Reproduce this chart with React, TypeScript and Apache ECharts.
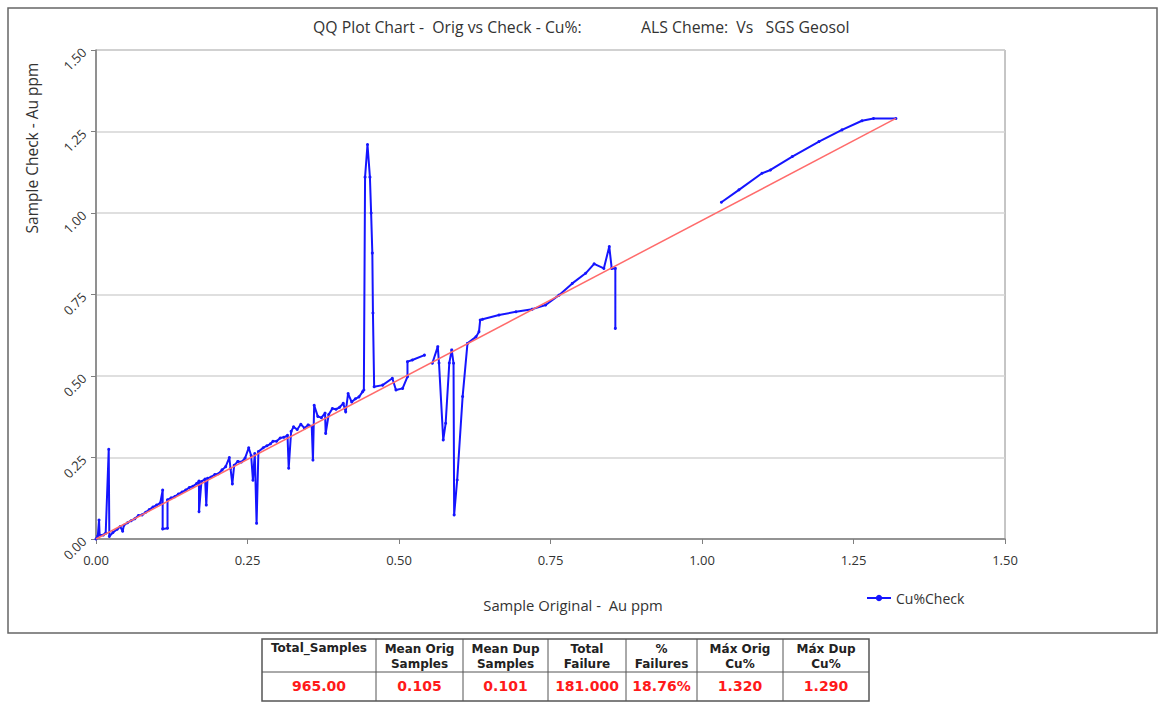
import React, { useEffect, useRef } from "react";
import * as echarts from "echarts";

const seriesName = "Cu%Check";
const titleLeft = "QQ Plot Chart -  Orig vs Check - Cu%:";
const titleRight = "ALS Cheme:  Vs   SGS Geosol";
const xAxisName = "Sample Original -  Au ppm";
const yAxisName = "Sample Check - Au ppm";

// blue QQ trace, split where the original line has gaps
const checkSegment1: number[][] = [
  [0, 0], [0.003, 0.01], [0.005, 0.058], [0.006, 0.012], [0.012, 0.012], [0.016, 0.018],
  [0.021, 0.275], [0.022, 0.008], [0.028, 0.02], [0.035, 0.03], [0.04, 0.038], [0.044, 0.024],
  [0.046, 0.042], [0.052, 0.05], [0.058, 0.056], [0.064, 0.062], [0.07, 0.072], [0.076, 0.074],
  [0.082, 0.082], [0.088, 0.09], [0.094, 0.098], [0.1, 0.104], [0.106, 0.11], [0.11, 0.15],
  [0.11, 0.031], [0.118, 0.033], [0.118, 0.12], [0.124, 0.126], [0.13, 0.13], [0.136, 0.138],
  [0.142, 0.144], [0.148, 0.15], [0.154, 0.158], [0.16, 0.162], [0.166, 0.17], [0.17, 0.178],
  [0.17, 0.084], [0.174, 0.176], [0.18, 0.184], [0.182, 0.104], [0.184, 0.186], [0.19, 0.19],
  [0.196, 0.198], [0.202, 0.2], [0.208, 0.212], [0.214, 0.222], [0.22, 0.25], [0.222, 0.216],
  [0.225, 0.169], [0.228, 0.226], [0.234, 0.238], [0.24, 0.236], [0.246, 0.248], [0.252, 0.28],
  [0.256, 0.256], [0.259, 0.18], [0.262, 0.262], [0.265, 0.048], [0.268, 0.268], [0.276, 0.28],
  [0.282, 0.286], [0.288, 0.292], [0.292, 0.3], [0.298, 0.3], [0.304, 0.31], [0.31, 0.312],
  [0.316, 0.318], [0.318, 0.217], [0.322, 0.33], [0.326, 0.344], [0.332, 0.336], [0.338, 0.352],
  [0.344, 0.34], [0.35, 0.35], [0.356, 0.346], [0.358, 0.242], [0.36, 0.41], [0.366, 0.376],
  [0.372, 0.372], [0.378, 0.386], [0.379, 0.324], [0.384, 0.382], [0.39, 0.4], [0.396, 0.398],
  [0.402, 0.404], [0.408, 0.416], [0.412, 0.39], [0.416, 0.446], [0.422, 0.42], [0.428, 0.43],
  [0.434, 0.436], [0.44, 0.452], [0.442, 0.457], [0.444, 1.11], [0.448, 1.21], [0.452, 1.11],
  [0.454, 1.0], [0.456, 0.877], [0.457, 0.693], [0.459, 0.467], [0.473, 0.472], [0.489, 0.493],
  [0.495, 0.457], [0.506, 0.462], [0.514, 0.498], [0.514, 0.544], [0.522, 0.549], [0.542, 0.564],
];
const checkSegment2: number[][] = [
  [0.555, 0.539], [0.564, 0.59], [0.566, 0.54], [0.573, 0.304], [0.577, 0.355], [0.583, 0.54],
  [0.587, 0.58], [0.59, 0.539], [0.591, 0.074], [0.596, 0.181], [0.605, 0.437], [0.613, 0.6],
  [0.627, 0.62], [0.632, 0.636], [0.634, 0.672], [0.638, 0.674], [0.665, 0.687], [0.693, 0.697],
  [0.72, 0.705], [0.742, 0.718], [0.764, 0.748], [0.786, 0.784], [0.808, 0.815], [0.822, 0.844],
  [0.838, 0.83], [0.847, 0.897], [0.851, 0.83], [0.857, 0.83], [0.857, 0.646],
];
const checkSegment3: number[][] = [
  [1.032, 1.033], [1.061, 1.071], [1.099, 1.122], [1.113, 1.132], [1.149, 1.173], [1.193, 1.219],
  [1.231, 1.255], [1.264, 1.283], [1.283, 1.29], [1.32, 1.29],
];
const referenceLine: number[][] = [[0, 0], [1.32, 1.29]];

const tableHeaders: string[][] = [
  ["Total_Samples"], ["Mean Orig", "Samples"], ["Mean Dup", "Samples"], ["Total", "Failure"],
  ["%", "Failures"], ["Máx Orig", "Cu%"], ["Máx Dup", "Cu%"],
];
const tableValues: string[] = ["965.00", "0.105", "0.101", "181.000", "18.76%", "1.320", "1.290"];

const FONT = "'Open Sans', Lato, sans-serif";

export default function App() {
  const ref = useRef<HTMLDivElement>(null);
  useEffect(() => {
    if (!ref.current) return;
    const chart = echarts.init(ref.current, undefined, { renderer: "svg" });

    const colEdges = [262, 376, 463, 548, 626, 697, 783, 869];
    const tTop = 639, tMid = 672, tBot = 701;
    const tableEls: any[] = [];
    tableEls.push({ type: "rect", shape: { x: colEdges[0], y: tTop, width: colEdges[7] - colEdges[0], height: tBot - tTop }, style: { fill: "#fff", stroke: "#555", lineWidth: 1.5 } });
    tableEls.push({ type: "line", shape: { x1: colEdges[0], y1: tMid, x2: colEdges[7], y2: tMid }, style: { stroke: "#555", lineWidth: 1 } });
    for (let i = 1; i < 7; i++) {
      tableEls.push({ type: "line", shape: { x1: colEdges[i], y1: tTop, x2: colEdges[i], y2: tBot }, style: { stroke: "#555", lineWidth: 1 } });
    }
    tableHeaders.forEach((h, i) => {
      const cx = (colEdges[i] + colEdges[i + 1]) / 2;
      tableEls.push({
        type: "text", x: cx, y: h.length === 1 ? 648 : 656,
        style: { text: h.join("\n"), align: "center", verticalAlign: "middle", font: "bold 12px 'DejaVu Sans', sans-serif", fill: "#222", lineHeight: 15 },
      });
    });
    tableValues.forEach((v, i) => {
      const cx = (colEdges[i] + colEdges[i + 1]) / 2;
      tableEls.push({
        type: "text", x: cx, y: 686,
        style: { text: v, align: "center", verticalAlign: "middle", font: "bold 14px 'DejaVu Sans', sans-serif", fill: "#ff1a1a" },
      });
    });

    const option: any = {
      animation: false,
      backgroundColor: "#fff",
      grid: { left: 96, top: 50, right: 158, bottom: 164, show: true, borderColor: "#8c8c8c", borderWidth: 1, backgroundColor: "#fff" },
      xAxis: {
        type: "value", min: 0, max: 1.5, interval: 0.25,
        axisLine: { show: true, lineStyle: { color: "#7f7f7f", width: 1.5 } },
        axisTick: { show: true, length: 5, lineStyle: { color: "#7f7f7f" } },
        axisLabel: { formatter: (v: number) => v.toFixed(2), fontFamily: FONT, fontSize: 13, color: "#333", margin: 14 },
        splitLine: { show: false },
      },
      yAxis: {
        type: "value", min: 0, max: 1.5, interval: 0.25,
        axisLine: { show: true, lineStyle: { color: "#7f7f7f", width: 1.5 } },
        axisTick: { show: true, length: 5, lineStyle: { color: "#7f7f7f" } },
        axisLabel: { formatter: (v: number) => v.toFixed(2), fontFamily: FONT, fontSize: 13, color: "#333", rotate: 45, margin: 12 },
        splitLine: { show: true, lineStyle: { color: "#d4d4d4", width: 1.5 } },
      },
      legend: {
        data: [seriesName], left: 861, top: 586, itemWidth: 24, itemHeight: 8, itemGap: 4,
        textStyle: { fontFamily: FONT, fontSize: 14, color: "#333" },
      },
      series: [
        ...[checkSegment1, checkSegment2, checkSegment3].map((seg) => ({
          name: seriesName, type: "line", data: seg, symbol: "circle", symbolSize: 3, showSymbol: true,
          lineStyle: { color: "#1515ff", width: 2 }, itemStyle: { color: "#1515ff" }, z: 2,
        })),
        {
          name: "ref", type: "line", data: referenceLine, symbol: "none",
          lineStyle: { color: "#ff6b6b", width: 1.5 }, z: 3, silent: true,
        },
      ],
      graphic: [
        { type: "rect", shape: { x: 8, y: 8, width: 1149, height: 625 }, style: { fill: "none", stroke: "#666", lineWidth: 1.5 }, z: -1 },
        { type: "text", x: 313, y: 27, style: { text: titleLeft, font: `15.8px ${FONT}`, fill: "#333", verticalAlign: "middle" } },
        { type: "text", x: 641, y: 27, style: { text: titleRight, font: `15.8px ${FONT}`, fill: "#333", verticalAlign: "middle" } },
        { type: "text", x: 573, y: 605, style: { text: xAxisName, font: `14.8px ${FONT}`, fill: "#333", align: "center", verticalAlign: "middle" } },
        { type: "text", x: 32, y: 148, rotation: Math.PI / 2, style: { text: yAxisName, font: `15.5px ${FONT}`, fill: "#333", align: "center", verticalAlign: "middle" } },
        ...tableEls,
      ],
    };
    chart.setOption(option);
    return () => chart.dispose();
  }, []);
  return <div ref={ref} style={{ position: "absolute", left: 0, top: 0, width: 1163, height: 703 }} />;
}
